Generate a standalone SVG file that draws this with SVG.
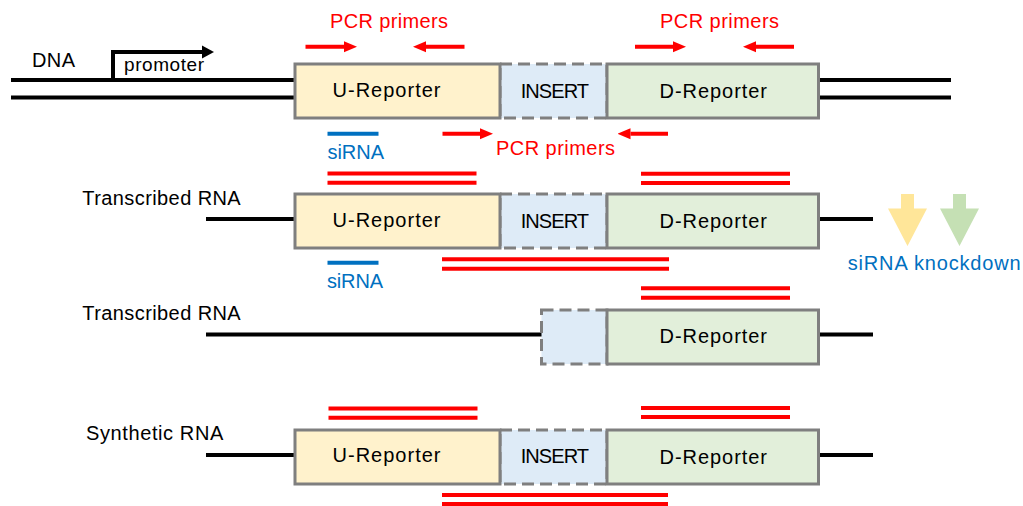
<svg xmlns="http://www.w3.org/2000/svg" width="1023" height="506" viewBox="0 0 1023 506">
<style>
text{font-family:"Liberation Sans",Arial,sans-serif;font-size:20px;fill:#000}
.red{fill:#FF0000}
.blue{fill:#0070C0}
.u{fill:#FFF2CC;stroke:#7F7F7F;stroke-width:3}
.d{fill:#E2EFDA;stroke:#7F7F7F;stroke-width:3}
.ins{fill:#DEEBF7;stroke:#7F7F7F;stroke-width:3;stroke-dasharray:12 6}
.bk{stroke:#000;stroke-width:4;fill:none}
.rl{stroke:#FF0000;stroke-width:4;fill:none}
.bl{stroke:#0070C0;stroke-width:4;fill:none}
.pr{stroke:#FF0000;stroke-width:4;fill:none;marker-end:url(#rh)}
</style>
<defs>
<marker id="rh" viewBox="0 -6 13 12" refX="0" refY="0" markerWidth="13" markerHeight="12" markerUnits="userSpaceOnUse" orient="auto"><path d="M0,-5.5 L13,0 L0,5.5 z" fill="#FF0000"/></marker>
<marker id="kh" viewBox="0 -7 12 14" refX="0" refY="0" markerWidth="12" markerHeight="14" markerUnits="userSpaceOnUse" orient="auto"><path d="M0,-6.5 L12,0 L0,6.5 z" fill="#000"/></marker>
</defs>

<g id="connectors">
<!-- DNA strands -->
<line class="bk" x1="11" y1="80" x2="295" y2="80"/>
<line class="bk" x1="11" y1="97.5" x2="295" y2="97.5"/>
<line class="bk" x1="818" y1="80" x2="951" y2="80"/>
<line class="bk" x1="818" y1="97.5" x2="951" y2="97.5"/>
<!-- promoter arrow -->
<polyline class="bk" points="113,80 113,52 202,52" style="marker-end:url(#kh)"/>
<!-- RNA lines -->
<line class="bk" x1="206" y1="219" x2="295" y2="219"/>
<line class="bk" x1="818" y1="219" x2="873" y2="219"/>
<line class="bk" x1="206" y1="334.5" x2="542" y2="334.5"/>
<line class="bk" x1="818" y1="334.5" x2="873" y2="334.5"/>
<line class="bk" x1="206" y1="455" x2="295" y2="455"/>
<line class="bk" x1="818" y1="455" x2="873" y2="455"/>
<!-- primer arrows -->
<line class="pr" x1="305.5" y1="46.7" x2="344" y2="46.7"/>
<line class="pr" x1="464.5" y1="46.7" x2="426" y2="46.7"/>
<line class="pr" x1="635" y1="46.7" x2="673" y2="46.7"/>
<line class="pr" x1="794" y1="46.7" x2="756" y2="46.7"/>
<line class="pr" x1="442.5" y1="133.7" x2="480" y2="133.7"/>
<line class="pr" x1="668" y1="133.7" x2="630.5" y2="133.7"/>
<!-- siRNA lines -->
<line class="bl" x1="327.5" y1="133.7" x2="378.5" y2="133.7"/>
<line class="bl" x1="327.5" y1="262.7" x2="378.5" y2="262.7"/>
<!-- PCR products -->
<line class="rl" x1="327.5" y1="173.5" x2="476.5" y2="173.5"/>
<line class="rl" x1="327.5" y1="182.8" x2="476.5" y2="182.8"/>
<line class="rl" x1="641" y1="173.8" x2="790" y2="173.8"/>
<line class="rl" x1="641" y1="183" x2="790" y2="183"/>
<line class="rl" x1="442" y1="259.3" x2="669" y2="259.3"/>
<line class="rl" x1="442" y1="268.7" x2="669" y2="268.7"/>
<line class="rl" x1="641" y1="288.3" x2="790" y2="288.3"/>
<line class="rl" x1="641" y1="297.7" x2="790" y2="297.7"/>
<line class="rl" x1="328.5" y1="408.5" x2="477.5" y2="408.5"/>
<line class="rl" x1="328.5" y1="417.8" x2="477.5" y2="417.8"/>
<line class="rl" x1="641" y1="408" x2="790" y2="408"/>
<line class="rl" x1="641" y1="417" x2="790" y2="417"/>
<line class="rl" x1="442" y1="495" x2="668" y2="495"/>
<line class="rl" x1="442" y1="504" x2="668" y2="504"/>
<!-- knockdown arrows -->
<polygon points="901,194 914,194 914,208.5 927,208.5 907.5,246 888,208.5 901,208.5" fill="#FFE699"/>
<polygon points="953,194 966,194 966,208.5 979,208.5 959.5,246 940,208.5 953,208.5" fill="#C5E0B4"/>
</g>

<g id="labels">
<text x="32" y="67" textLength="43">DNA</text>
<text x="124" y="70.5" font-size="19" style="font-size:19px" textLength="80">promoter</text>
<text class="red" x="330" y="28" textLength="118">PCR primers</text>
<text class="red" x="660" y="28" textLength="119">PCR primers</text>
<text class="red" x="496" y="155" textLength="119">PCR primers</text>
<text class="blue" x="327.5" y="159.3" textLength="56.5">siRNA</text>
<text class="blue" x="327" y="287.7" textLength="56">siRNA</text>
<text x="82.3" y="205" textLength="158.4">Transcribed RNA</text>
<text x="82.3" y="320" textLength="158.4">Transcribed RNA</text>
<text x="86" y="440" textLength="137.3">Synthetic RNA</text>
<text class="blue" x="847.7" y="270" textLength="173">siRNA knockdown</text>
</g>

<g id="row1">
<rect id="r1-insert" class="ins" x="500" y="64" width="107" height="54"/>
<rect id="r1-u" class="u" x="295" y="64" width="205" height="54"/>
<rect id="r1-d" class="d" x="607" y="64" width="211.5" height="54"/>
<text x="332.5" y="97" textLength="108">U-Reporter</text>
<text x="520.7" y="97.7" textLength="68.3">INSERT</text>
<text x="659.5" y="98" textLength="107.5">D-Reporter</text>
</g>

<g id="row2">
<rect id="r2-insert" class="ins" x="500" y="194" width="107" height="54"/>
<rect id="r2-u" class="u" x="295" y="194" width="205" height="54"/>
<rect id="r2-d" class="d" x="607" y="194" width="211.5" height="54"/>
<text x="332.5" y="226.7" textLength="108">U-Reporter</text>
<text x="520.7" y="227.5" textLength="68.3">INSERT</text>
<text x="659.5" y="228.3" textLength="107.5">D-Reporter</text>
</g>

<g id="row3">
<rect id="r3-insert" class="ins" x="541.5" y="310" width="65.5" height="54"/>
<rect id="r3-d" class="d" x="607" y="310" width="211.5" height="54"/>
<text x="659.5" y="343.3" textLength="107.5">D-Reporter</text>
</g>

<g id="row4">
<rect id="r4-insert" class="ins" x="500" y="430" width="107" height="54"/>
<rect id="r4-u" class="u" x="295" y="430" width="205" height="54"/>
<rect id="r4-d" class="d" x="607" y="430" width="211.5" height="54"/>
<text x="332.5" y="461.7" textLength="108">U-Reporter</text>
<text x="520.7" y="462.5" textLength="68.3">INSERT</text>
<text x="659.5" y="463.5" textLength="107.5">D-Reporter</text>
</g>
</svg>
